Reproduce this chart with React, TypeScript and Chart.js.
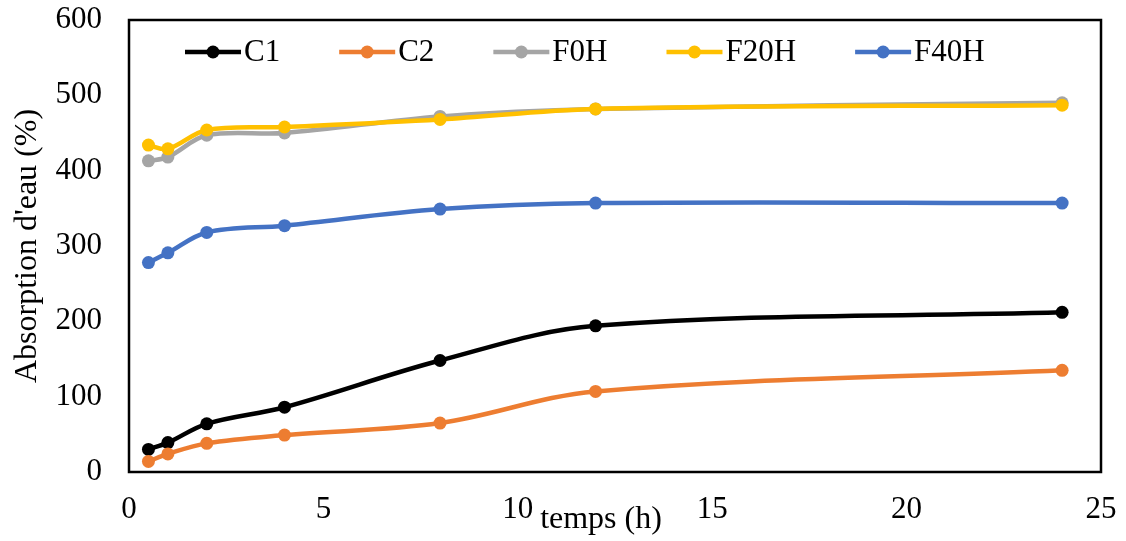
import React, { useEffect, useRef } from 'react';
import { Chart, registerables } from 'chart.js';

Chart.register(...registerables);

// ---- data ----
const hours = [0.5, 1, 2, 4, 8, 12, 24];
const seriesNames = ['C1', 'C2', 'F0H', 'F20H', 'F40H'];
const c1 = [30, 39, 64, 86, 148, 194, 212];
const c2 = [14, 24, 38, 49, 65, 107, 135];
const f0h = [413, 418, 447, 450, 472, 482, 490];
const f20h = [434, 429, 454, 458, 468, 482, 487];
const f40h = [278, 291, 318, 327, 349, 357, 357];
const seriesColors = ['#000000', '#ED7D31', '#A5A5A5', '#FFC000', '#4472C4'];
const drawOrder = [5, 4, 3, 2, 1];
const xMin = 0;
const xMax = 25;
const xStep = 5;
const yMin = 0;
const yMax = 600;
const yStep = 100;
const yTitle = "Absorption d'eau (%)";
const xTitle = 'temps (h)';

const FONT = "'Liberation Serif', 'Times New Roman', serif";

const framePlugin = {
  id: 'frame',
  beforeDatasetsDraw(chart: any) {
    const { ctx, chartArea } = chart;
    ctx.save();
    ctx.strokeStyle = '#000';
    ctx.lineWidth = 2.5;
    ctx.strokeRect(chartArea.left, chartArea.top, chartArea.right - chartArea.left, chartArea.bottom - chartArea.top);
    ctx.restore();
  },
};

const insideLegendPlugin = {
  id: 'insideLegend',
  afterDraw(chart: any) {
    const { ctx, chartArea } = chart;
    ctx.save();
    ctx.font = `31px ${FONT}`;
    ctx.textBaseline = 'middle';
    ctx.textAlign = 'left';
    let x = chartArea.left + 56;
    const y = chartArea.top + 32;
    chart.data.datasets.forEach((ds: any) => {
      ctx.strokeStyle = ds.borderColor;
      ctx.lineWidth = 4.5;
      ctx.beginPath();
      ctx.moveTo(x, y);
      ctx.lineTo(x + 56, y);
      ctx.stroke();
      ctx.fillStyle = ds.borderColor;
      ctx.beginPath();
      ctx.arc(x + 28, y, 6.5, 0, Math.PI * 2);
      ctx.fill();
      ctx.fillStyle = '#000';
      ctx.fillText(ds.label, x + 59, y + 1);
      x += 59 + ctx.measureText(ds.label).width + 59;
    });
    ctx.restore();
  },
};

const xTitlePlugin = {
  id: 'xTitle',
  afterDraw(chart: any) {
    const { ctx, chartArea } = chart;
    ctx.save();
    ctx.font = `32px ${FONT}`;
    ctx.fillStyle = '#000';
    ctx.textAlign = 'center';
    ctx.textBaseline = 'middle';
    ctx.fillText(xTitle, (chartArea.left + chartArea.right) / 2 - 14, chart.height - 21);
    ctx.restore();
  },
};

export default function App() {
  const ref = useRef<HTMLCanvasElement | null>(null);

  useEffect(() => {
    if (!ref.current) return;
    const allSeries = [c1, c2, f0h, f20h, f40h];
    const datasets = allSeries.map((vals, i) => ({
      label: seriesNames[i],
      data: hours.map((h, j) => ({ x: h, y: vals[j] })),
      borderColor: seriesColors[i],
      backgroundColor: seriesColors[i],
      pointBackgroundColor: seriesColors[i],
      pointBorderColor: seriesColors[i],
      borderWidth: 4.5,
      pointRadius: 6.5,
      pointBorderWidth: 0,
      tension: 0.35,
      order: drawOrder[i],
      clip: false as any,
    }));

    const tickFont = { family: FONT, size: 31 };
    const chart = new Chart(ref.current, {
      type: 'line',
      data: { datasets },
      options: {
        animation: false,
        responsive: true,
        maintainAspectRatio: false,
        devicePixelRatio: 1,
        layout: { padding: { left: 0, top: 20, right: 25, bottom: 0 } },
        plugins: {
          legend: { display: false },
          tooltip: { enabled: false },
        },
        scales: {
          x: {
            type: 'linear',
            min: xMin,
            max: xMax,
            ticks: { stepSize: xStep, padding: 19, color: '#000', font: tickFont },
            grid: { display: false, drawTicks: false },
            border: { display: false },
            afterFit: (s: any) => {
              s.height = 69;
              s.paddingLeft = 0;
              s.paddingRight = 0;
            },
          },
          y: {
            type: 'linear',
            min: yMin,
            max: yMax,
            ticks: { stepSize: yStep, padding: 27, color: '#000', font: tickFont },
            grid: { display: false, drawTicks: false },
            border: { display: false },
            title: {
              display: true,
              text: yTitle,
              color: '#000',
              font: { family: FONT, size: 32 },
              padding: { top: 8, bottom: 0 },
            },
            afterFit: (s: any) => {
              s.width = 129;
              s.paddingTop = 0;
              s.paddingBottom = 0;
            },
          },
        },
      } as any,
      plugins: [framePlugin, insideLegendPlugin, xTitlePlugin],
    });
    return () => chart.destroy();
  }, []);

  return (
    <div style={{ position: 'fixed', left: 0, top: 0, width: 1126, height: 541, background: '#fff' }}>
      <canvas ref={ref} />
    </div>
  );
}
